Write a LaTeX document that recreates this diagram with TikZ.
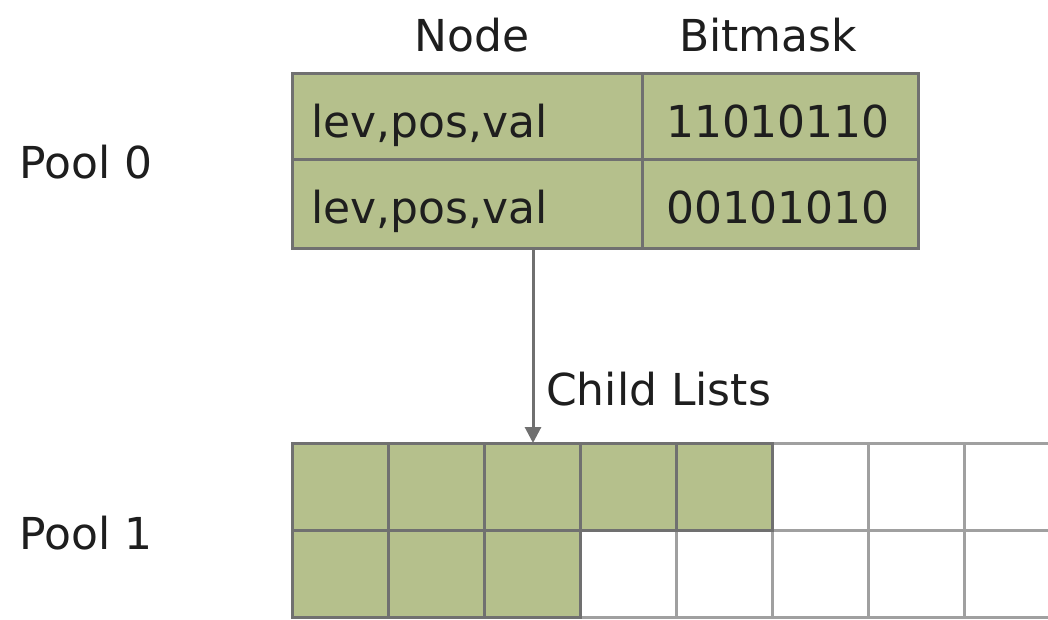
\documentclass[tikz,border=0pt]{standalone}
\usepackage{fontspec}
\setmainfont{DejaVu Sans}
\usetikzlibrary{arrows.meta}
\definecolor{cellgreen}{RGB}{181,192,140}
\definecolor{edgedark}{RGB}{112,112,112}
\definecolor{edgelight}{RGB}{160,160,160}
\definecolor{inkcol}{RGB}{30,30,30}
\tikzset{
  lbl/.style={font=\fontsize{44}{48}\selectfont, text=inkcol, inner sep=0pt, anchor=base west},
  midlbl/.style={lbl, anchor=base},
  fullcell/.style={draw=edgedark, fill=cellgreen, line width=3pt},
  emptycell/.style={draw=edgelight, fill=white, line width=3pt},
  link/.style={draw=edgedark, line width=3pt, -{Triangle[length=16pt,width=16pt]}}
}
\begin{document}
\begin{tikzpicture}[x=1pt,y=-1pt]
\useasboundingbox (0,0) rectangle (1048,620);

% column headers
\node[midlbl] (hnode) at (472,52) {Node};
\node[midlbl] (hbits) at (768,52) {Bitmask};

% pool 0: node table
\draw[fullcell] (292,74) rectangle (642,160);
\draw[fullcell] (642,74) rectangle (918,160);
\draw[fullcell] (292,160) rectangle (642,248);
\draw[fullcell] (642,160) rectangle (918,248);
\node[lbl] (r1a) at (311,138) {lev,pos,val};
\node[midlbl] (r1b) at (778,138) {11010110};
\node[lbl] (r2a) at (311,223) {lev,pos,val};
\node[midlbl] (r2b) at (778,223) {00101010};

\node[lbl] (pool0) at (19,179) {Pool 0};
\node[lbl] (pool1) at (19,549) {Pool 1};

% pool 1: child list slots
\begin{scope}
\clip (0,0) rectangle (1048,620);
\foreach \r in {0,1} {
  \foreach \c in {0,...,8} {
    \draw[emptycell] ({292+96*\c},{443+87*\r}) rectangle ++(96,87);
  }
}
% occupied slots: five in the first list, three in the second
\foreach \r/\n in {0/5, 1/3} {
  \foreach \c in {1,...,\n} {
    \draw[fullcell] ({292+96*(\c-1)},{443+87*\r}) rectangle ++(96,87);
  }
}
\end{scope}

% link from the node table to its children
\coordinate (src) at (533,248);
\coordinate (dst) at (533,443);
\draw[link] (src) -- (dst);
\node[lbl] (childlbl) at (546,405) {Child Lists};
\end{tikzpicture}
\end{document}
